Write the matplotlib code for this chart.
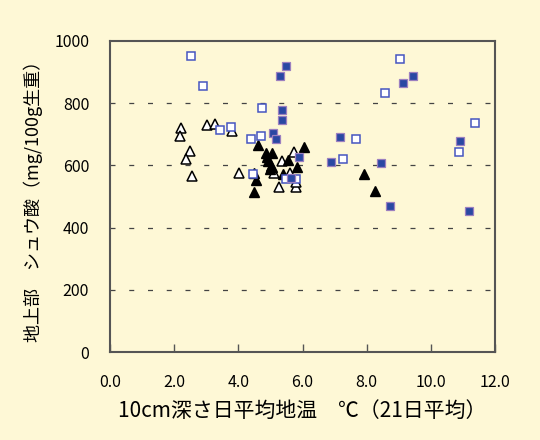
import matplotlib.pyplot as plt

plt.rcParams["font.family"] = ["Noto Sans CJK JP", "DejaVu Sans"]

# hollow squares
open_sq_x = [2.52, 2.90, 4.73, 3.43, 3.77, 4.39, 4.70, 5.48, 4.45, 5.79,
             9.03, 8.57, 7.66, 7.26, 11.37, 10.87]
open_sq_y = [952, 855, 784, 713, 723, 684, 694, 555, 571, 555,
             942, 832, 684, 619, 735, 642]

# filled squares
fill_sq_x = [5.48, 5.30, 5.36, 5.36, 5.08, 5.17, 5.89, 5.64,
             9.44, 9.13, 7.17, 6.88, 8.44, 10.90, 8.72, 11.18]
fill_sq_y = [919, 887, 777, 745, 703, 684, 626, 558,
             887, 865, 690, 610, 606, 677, 468, 452]

# hollow triangles
open_tri_x = [2.21, 2.18, 3.02, 3.27, 3.80, 2.49, 2.37, 2.55, 4.02,
              5.36, 5.73, 5.11, 5.61, 5.26, 5.79, 5.79]
open_tri_y = [719, 694, 729, 732, 710, 645, 619, 565, 574,
              613, 642, 577, 577, 532, 532, 548]

# filled triangles
fill_tri_x = [4.61, 4.86, 5.05, 4.89, 4.92, 5.02, 4.98, 5.05, 5.55,
              5.83, 6.04, 5.39, 4.49, 4.55, 4.49, 7.91, 8.26]
fill_tri_y = [665, 639, 639, 626, 613, 597, 587, 594, 616,
              594, 658, 571, 577, 552, 513, 571, 516]

x_ticks = [0, 2, 4, 6, 8, 10, 12]
y_ticks = [0, 200, 400, 600, 800, 1000]

bg = "#fef8d6"
fig = plt.figure(figsize=(5.4, 4.4), dpi=100, facecolor=bg)
ax = fig.add_axes([0.2037, 0.2, 0.713, 0.707], facecolor=bg)

for y in [200, 400, 600, 800]:
    ax.axhline(y, color="#444444", lw=0.9, ls=(0, (4, 11)), zorder=1)

ax.plot(open_tri_x, open_tri_y, ls="none", marker="^", ms=6.5, mfc="white",
        mec="black", mew=1.1, zorder=3)
ax.plot(fill_tri_x, fill_tri_y, ls="none", marker="^", ms=6.5, mfc="black",
        mec="black", mew=1.0, zorder=3)
ax.plot(open_sq_x, open_sq_y, ls="none", marker="s", ms=5.5, mfc="white",
        mec="#4655c0", mew=1.1, zorder=4)
ax.plot(fill_sq_x, fill_sq_y, ls="none", marker="s", ms=5.5, mfc="#2a48a3",
        mec="#9b7fc0", mew=0.9, zorder=4)

ax.set_xlim(0, 12)
ax.set_ylim(0, 1000)
ax.set_xticks(x_ticks)
ax.set_xticklabels([f"{v:.1f}" for v in x_ticks])
ax.set_yticks(y_ticks)
ax.tick_params(axis="x", direction="in", length=6, width=1, color="#555555",
               pad=16, labelsize=11.5)
ax.tick_params(axis="y", length=0, pad=15, labelsize=11.5)
for s in ax.spines.values():
    s.set_color("#555555")
    s.set_linewidth(1.5)

ax.set_xlabel("10cm深さ日平均地温　℃（21日平均）", fontsize=15, labelpad=6)
ax.set_ylabel("地上部　シュウ酸（mg/100g生重）", fontsize=13, labelpad=8)

fig.savefig("out.png", dpi=100, facecolor=bg)
